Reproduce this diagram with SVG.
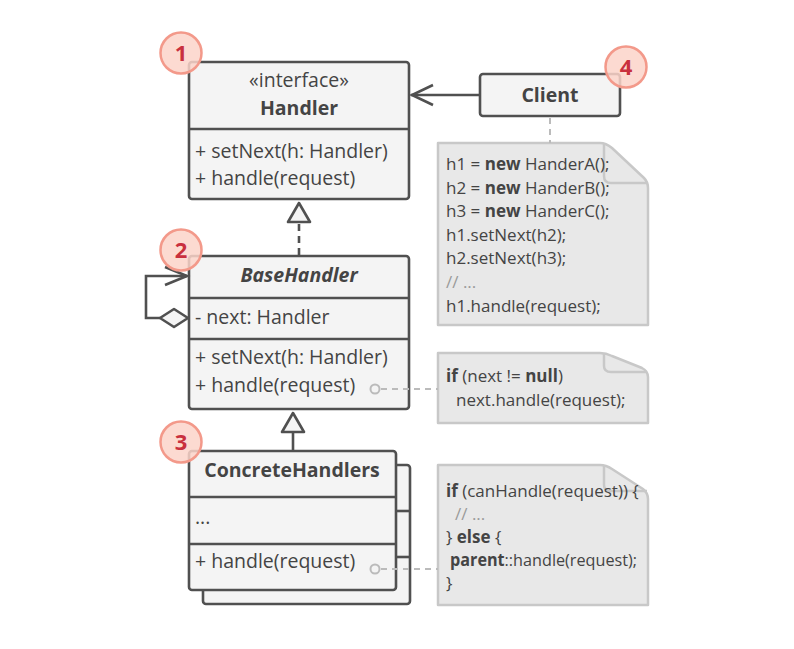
<svg xmlns="http://www.w3.org/2000/svg" width="794" height="649" viewBox="0 0 794 649">
  <style>
    .box { fill: #f4f4f4; stroke: #505050; stroke-width: 2.6; }
    .div { stroke: #505050; stroke-width: 2.6; }
    .t { font-family: "Open Sans", "Noto Sans", "Liberation Sans", sans-serif; font-size: 19.5px; fill: #444; }
    .c { text-anchor: middle; }
    .b { font-weight: bold; }
    .note { fill: #e8e8e8; stroke: #c8c8c8; stroke-width: 2.5; stroke-linejoin: round; }
    .fold { fill: none; stroke: #c8c8c8; stroke-width: 2.5; }
    .nt { font-family: "Open Sans", "Noto Sans", "Liberation Sans", sans-serif; font-size: 17px; fill: #444; }
    .cm { fill: #9a9a9a; }
    .link { fill: none; stroke: #505050; stroke-width: 2.6; }
    .dot { fill: none; stroke: #bbb; stroke-width: 2; stroke-dasharray: 6 5; }
    .badge circle { fill: #fbd3c9; fill-opacity: 0.85; stroke: #f3998a; stroke-width: 2.5; }
    .badge text { font-family: "Open Sans", "Noto Sans", "Liberation Sans", sans-serif; font-size: 22px; font-weight: bold; fill: #c9303e; text-anchor: middle; }
  </style>

  <!-- Handler interface -->
  <g id="handler">
    <rect class="box" x="189" y="62" width="220" height="137" rx="3"/>
    <line class="div" x1="189" y1="129" x2="409" y2="129"/>
    <text class="t c" x="299" y="87">«interface»</text>
    <text class="t c b" x="299" y="115">Handler</text>
    <text class="t" x="195" y="158">+ setNext(h: Handler)</text>
    <text class="t" x="195" y="185">+ handle(request)</text>
  </g>

  <!-- BaseHandler -->
  <g id="base-handler">
    <rect class="box" x="189" y="256" width="220" height="153" rx="3"/>
    <line class="div" x1="189" y1="298" x2="409" y2="298"/>
    <line class="div" x1="189" y1="339" x2="409" y2="339"/>
    <text class="t c b" x="299" y="282" font-style="italic">BaseHandler</text>
    <text class="t" x="195" y="324">- next: Handler</text>
    <text class="t" x="195" y="364">+ setNext(h: Handler)</text>
    <text class="t" x="195" y="392">+ handle(request)</text>
  </g>

  <!-- ConcreteHandlers (stacked) -->
  <g id="concrete-handlers">
    <rect class="box" x="203" y="465" width="207" height="139" rx="3"/>
    <line class="div" x1="396" y1="511" x2="410" y2="511"/>
    <line class="div" x1="396" y1="557" x2="410" y2="557"/>
    <rect class="box" x="189" y="451" width="207" height="139" rx="3"/>
    <line class="div" x1="189" y1="497" x2="396" y2="497"/>
    <line class="div" x1="189" y1="544" x2="396" y2="544"/>
    <text class="t c b" x="292" y="477">ConcreteHandlers</text>
    <text class="t" x="195" y="524">...</text>
    <text class="t" x="195" y="568">+ handle(request)</text>
  </g>

  <!-- Client -->
  <g id="client">
    <rect class="box" x="480" y="74" width="140" height="42" rx="3"/>
    <text class="t c b" x="550" y="102">Client</text>
  </g>

  <!-- Client code note -->
  <g id="note-client">
    <path class="note" d="M438,143 H600 Q606,143 612,148 L644,178 Q648,182 648,188 V325 H438 Z"/>
    <path class="fold" d="M604,144 V176 Q604,183 611,183 H647"/>
    <text class="nt" x="446" y="170">h1 = <tspan font-weight="bold">new</tspan> HanderA();</text>
    <text class="nt" x="446" y="194">h2 = <tspan font-weight="bold">new</tspan> HanderB();</text>
    <text class="nt" x="446" y="217">h3 = <tspan font-weight="bold">new</tspan> HanderC();</text>
    <text class="nt" x="446" y="241">h1.setNext(h2);</text>
    <text class="nt" x="446" y="264">h2.setNext(h3);</text>
    <text class="nt cm" x="446" y="288">// ...</text>
    <text class="nt" x="446" y="312">h1.handle(request);</text>
  </g>

  <!-- BaseHandler.handle note -->
  <g id="note-base">
    <path class="note" d="M438,353 H600 Q606,353 612,356 L642,368 Q648,371 648,377 V423 H438 Z"/>
    <path class="fold" d="M604,354 V366 Q604,372 611,372 H647"/>
    <text class="nt" x="446" y="382"><tspan font-weight="bold">if</tspan> (next != <tspan font-weight="bold">null</tspan>)</text>
    <text class="nt" x="456" y="406">next.handle(request);</text>
  </g>

  <!-- ConcreteHandler.handle note -->
  <g id="note-concrete">
    <path class="note" d="M438,465 H600 Q606,465 612,469 L643,489 Q648,493 648,499 V605 H438 Z"/>
    <path class="fold" d="M604,466 V485 Q604,491 611,491 H647"/>
    <text class="nt" x="446" y="497"><tspan font-weight="bold">if</tspan> (canHandle(request)) {</text>
    <text class="nt cm" x="455" y="520">// ...</text>
    <text class="nt" x="446" y="543">} <tspan font-weight="bold">else</tspan> {</text>
    <text class="nt" x="450" y="566" textLength="187" lengthAdjust="spacingAndGlyphs"><tspan font-weight="bold">parent</tspan>::handle(request);</text>
    <text class="nt" x="446" y="589">}</text>
  </g>

  <!-- connectors -->
  <g id="connectors">
    <!-- Client uses Handler -->
    <line class="link" x1="480" y1="95" x2="411" y2="95"/>
    <polyline class="link" points="433,85 412,95 433,105"/>
    <!-- BaseHandler realizes Handler -->
    <line class="link" x1="299" y1="255" x2="299" y2="222" stroke-dasharray="7 5"/>
    <polygon points="299,203 288,222 310,222" fill="#f4f4f4" stroke="#505050" stroke-width="2.6" stroke-linejoin="round"/>
    <!-- ConcreteHandlers extend BaseHandler -->
    <line class="link" x1="293" y1="450" x2="293" y2="432"/>
    <polygon points="293,413 282,432 304,432" fill="#f4f4f4" stroke="#505050" stroke-width="2.6" stroke-linejoin="round"/>
    <!-- self aggregation on next -->
    <polyline class="link" points="160,318 146,318 146,276 187,276"/>
    <polyline class="link" points="165,267 187,276 165,285"/>
    <polygon points="160,318 174,309 188,318 174,327" fill="#f4f4f4" stroke="#505050" stroke-width="2.6" stroke-linejoin="round"/>
    <!-- note links -->
    <line class="dot" x1="550" y1="118" x2="550" y2="143"/>
    <circle cx="375" cy="389" r="4.5" fill="#f4f4f4" stroke="#bbb" stroke-width="2"/>
    <line class="dot" x1="381" y1="389" x2="438" y2="389"/>
    <circle cx="375" cy="569" r="4.5" fill="#f4f4f4" stroke="#bbb" stroke-width="2"/>
    <line class="dot" x1="381" y1="569" x2="438" y2="569"/>
  </g>

  <!-- step badges -->
  <g id="badge-1" class="badge"><circle cx="181" cy="53" r="20.5"/><text x="181" y="61">1</text></g>
  <g id="badge-2" class="badge"><circle cx="181" cy="250" r="20.5"/><text x="181" y="258">2</text></g>
  <g id="badge-3" class="badge"><circle cx="181" cy="442" r="20.5"/><text x="181" y="450">3</text></g>
  <g id="badge-4" class="badge"><circle cx="626" cy="67" r="20.5"/><text x="626" y="75">4</text></g>
</svg>
